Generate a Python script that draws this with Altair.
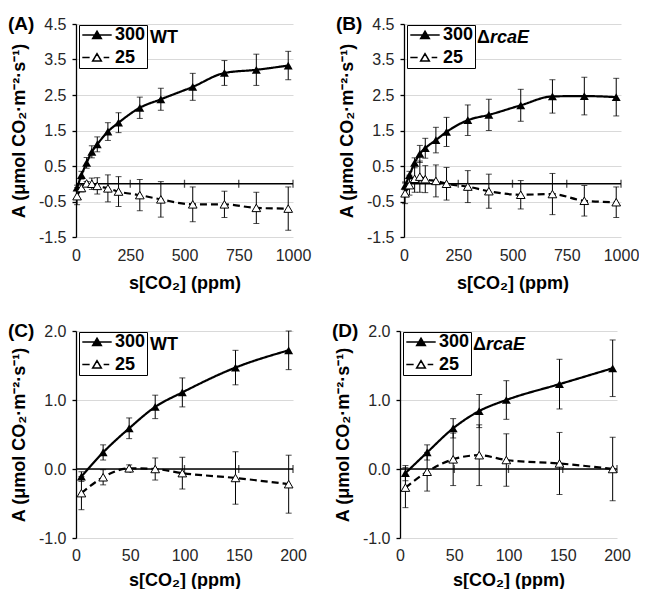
import altair as alt
import pandas as pd

# ---------------- data ----------------
co2 = [5, 25, 49, 73, 98, 147, 196, 294, 391, 538, 684, 831, 978]

wt300 = [-0.11, 0.24, 0.59, 0.90, 1.11, 1.47, 1.72, 2.14, 2.38, 2.73, 3.12, 3.21, 3.33]
wt300_err = [0.07, 0.11, 0.15, 0.17, 0.21, 0.25, 0.28, 0.30, 0.31, 0.38, 0.35, 0.44, 0.40]
wt25 = [-0.35, -0.12, 0.01, 0.00, -0.06, -0.13, -0.22, -0.32, -0.44, -0.58, -0.58, -0.68, -0.70]
wt25_err = [0.24, 0.11, 0.05, 0.16, 0.23, 0.38, 0.42, 0.44, 0.50, 0.49, 0.37, 0.44, 0.61]

rca300 = [-0.06, 0.24, 0.59, 0.84, 1.00, 1.23, 1.46, 1.79, 1.94, 2.21, 2.46, 2.47, 2.44]
rca300_err = [0.11, 0.11, 0.14, 0.24, 0.28, 0.36, 0.41, 0.43, 0.44, 0.45, 0.47, 0.53, 0.53]
rca25 = [-0.27, -0.04, 0.14, 0.20, 0.13, 0.08, 0.00, -0.08, -0.21, -0.31, -0.29, -0.48, -0.52]
rca25_err = [0.29, 0.28, 0.38, 0.44, 0.38, 0.45, 0.46, 0.45, 0.48, 0.40, 0.58, 0.43, 0.43]

series = ["300", "25"]
x_ticks_full = [0, 250, 500, 750, 1000]
x_ticks_zoom = [0, 50, 100, 150, 200]
y_ticks_full = [-1.5, -0.5, 0.5, 1.5, 2.5, 3.5, 4.5]
y_ticks_zoom = [-1.0, 0.0, 1.0, 2.0]

FONT = "Liberation Sans"
X_TITLE = "s[CO₂] (ppm)"
Y_TITLE = "A (μmol CO₂·m⁻²·s⁻¹)"

# legend symbols: line sample with a triangle marker (open one drawn as outline only)
SYM_FILLED = "M-2.1,0L2.1,0M0,-0.55L0.62,0.5L-0.62,0.5Z"
SYM_OPEN = ("M-2.1,0L-1.05,0M0.95,0L1.75,0"
            "M0,-0.55L0.62,0.5L-0.62,0.5ZM0,-0.55L-0.62,0.5L0.62,0.5Z")


def make_panel(letter, strain_parts, n, y300, e300, y25, e25, xticks, yticks, height,
               xlabel_pad, xtitle_pad):
    df = pd.DataFrame({
        "x": co2[:n] * 2,
        "y": y300[:n] + y25[:n],
        "lo": [a - b for a, b in zip(y300[:n], e300[:n])] + [a - b for a, b in zip(y25[:n], e25[:n])],
        "hi": [a + b for a, b in zip(y300[:n], e300[:n])] + [a + b for a, b in zip(y25[:n], e25[:n])],
        "s": ["300"] * n + ["25"] * n,
    })
    xs = alt.Scale(domain=[xticks[0], xticks[-1]], nice=False, zero=False)
    ys = alt.Scale(domain=[yticks[0], yticks[-1]], nice=False, zero=False)
    xaxis = alt.Axis(values=xticks, format="d", title=X_TITLE, grid=False, domain=False,
                     ticks=False, tickSize=0, labelPadding=xlabel_pad, titlePadding=xtitle_pad,
                     labelFontSize=16, labelColor="#262626", labelFlush=False,
                     labelOverlap=False, titleFontSize=18, titleFontWeight="bold",
                     titleColor="black")
    yaxis = alt.Axis(values=yticks, title=Y_TITLE,
                     labelExpr="replace(format(datum.value, '.1f'), '\u2212', '-')",
                     grid=True, gridColor="#d9d9d9", gridWidth=1,
                     domainColor="black", domainWidth=1.3, tickColor="black",
                     tickSize=4, tickWidth=1.3, labelPadding=6, titlePadding=10,
                     labelFontSize=16, labelColor="#262626", labelFlush=False,
                     labelOverlap=False, titleFontSize=18, titleFontWeight="bold",
                     titleColor="black")
    X = alt.X("x:Q", scale=xs, axis=xaxis)
    Y = alt.Y("y:Q", scale=ys, axis=yaxis)
    base = alt.Chart(df)

    zero = alt.Chart(pd.DataFrame({"x": [xticks[0]]})).mark_rule(
        color="black", strokeWidth=1.3).encode(y=alt.Y(datum=0, scale=ys, axis=yaxis))
    zero_ticks = alt.Chart(pd.DataFrame({"x": xticks[1:]})).mark_tick(
        orient="vertical", size=8, thickness=1.3, color="black").encode(
        x=X, y=alt.Y(datum=0, scale=ys, axis=yaxis))

    lines = base.mark_line(interpolate="monotone", color="black", strokeWidth=2.2).encode(
        x=X, y=Y,
        strokeDash=alt.StrokeDash("s:N", scale=alt.Scale(domain=series, range=[[1, 0], [7, 4]]),
                                  legend=None))
    bars = base.mark_rule(color="black", strokeWidth=1).encode(
        x=X, y=alt.Y("lo:Q", scale=ys, axis=yaxis), y2="hi:Q")
    cap_lo = base.mark_tick(orient="horizontal", size=6, thickness=1, color="black").encode(
        x=X, y=alt.Y("lo:Q", scale=ys, axis=yaxis))
    cap_hi = base.mark_tick(orient="horizontal", size=6, thickness=1, color="black").encode(
        x=X, y=alt.Y("hi:Q", scale=ys, axis=yaxis))
    pts_filled = base.transform_filter(alt.datum.s == "300").mark_point(
        shape="triangle-up", filled=True, size=80, color="black", opacity=1).encode(x=X, y=Y)
    pts_open = base.transform_filter(alt.datum.s == "25").mark_point(
        shape="triangle-up", filled=True, size=75, fill="white", stroke="black",
        strokeWidth=1, opacity=1).encode(x=X, y=Y)

    leg = alt.Legend(orient="none", legendX=3, legendY=1, title=None, strokeColor="black",
                     fillColor="white", padding=1, labelFont=FONT, labelFontSize=18,
                     labelFontWeight="bold", labelColor="black", symbolSize=196,
                     symbolStrokeWidth=1.5, symbolOffset=8, labelOffset=9,
                     rowPadding=4.5, symbolOpacity=1)
    legend_layer = base.transform_filter("false").mark_point(
        filled=True, fill="black", stroke="black", strokeWidth=1.5, opacity=1).encode(
        x=X, y=Y,
        shape=alt.Shape("s:N", scale=alt.Scale(domain=series, range=[SYM_FILLED, SYM_OPEN]),
                        legend=leg))

    def label(txt, xv, yv, size, style="normal"):
        return alt.Chart(pd.DataFrame({"t": [txt]})).mark_text(
            align="left", baseline="middle", fontSize=size, fontWeight="bold",
            fontStyle=style, color="black", font=FONT).encode(
            x=alt.value(xv), y=alt.value(yv), text="t:N")

    texts = [label(letter, -68, 0, 19)]
    for txt, xv, style in strain_parts:
        texts.append(label(txt, xv, 13.5, 18, style))

    return alt.layer(zero, lines, bars, cap_lo, cap_hi, zero_ticks, pts_filled, pts_open,
                     legend_layer, *texts).properties(width=217, height=height)


pA = make_panel("(A)", [("WT", 74, "normal")], 13, wt300, wt300_err, wt25, wt25_err,
                x_ticks_full, y_ticks_full, 213, 10, 11)
pB = make_panel("(B)", [("Δ", 73, "normal"), ("rcaE", 86, "italic")], 13, rca300, rca300_err,
                rca25, rca25_err, x_ticks_full, y_ticks_full, 213, 10, 11)
pC = make_panel("(C)", [("WT", 74, "normal")], 7, wt300, wt300_err, wt25, wt25_err,
                x_ticks_zoom, y_ticks_zoom, 207, 9, 8)
pD = make_panel("(D)", [("Δ", 73, "normal"), ("rcaE", 86, "italic")], 7, rca300, rca300_err,
                rca25, rca25_err, x_ticks_zoom, y_ticks_zoom, 207, 9, 8)

row1 = alt.hconcat(pA, pB, spacing=25).resolve_scale(shape="independent").resolve_legend(
    shape="independent")
row2 = alt.hconcat(pC, pD, spacing=25).resolve_scale(shape="independent").resolve_legend(
    shape="independent")

chart = alt.vconcat(row1, row2, spacing=30).resolve_scale(shape="independent").resolve_legend(
    shape="independent").properties(
    padding={"left": 0, "top": 7, "right": 0, "bottom": 0}
).configure(font=FONT).configure_view(stroke=None)

chart.save("out.html", embed_options={"renderer": "svg", "actions": False})
